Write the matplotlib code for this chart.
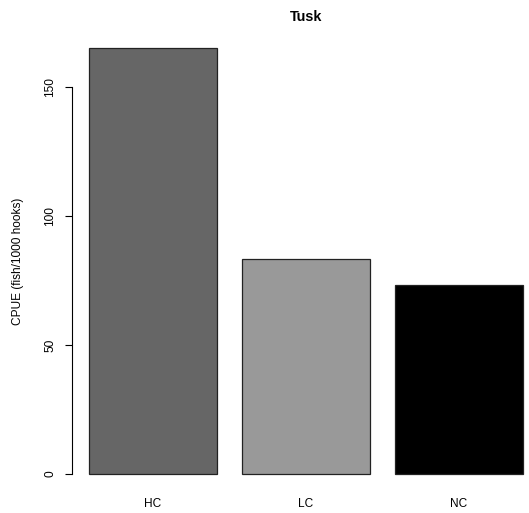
import numpy as np
import matplotlib
matplotlib.use("Agg")
import matplotlib.pyplot as plt

plt.rcParams["font.family"] = ["Liberation Sans", "DejaVu Sans"]

groups = ["HC", "LC", "NC"]
cpue = [165.3, 83.4, 73.2]
bar_colors = ["#666666", "#999999", "#000000"]
y_ticks = [0, 50, 100, 150]

W, H = 529, 513
fig = plt.figure(figsize=(W / 100, H / 100), dpi=100)

# plot region in pixels, like R's default margins
left, right, top, bottom = 72, 540, 31, 491
ax = fig.add_axes([left / W, (H - bottom) / H, (right - left) / W, (bottom - top) / H])

# barplot geometry: width 1, space 0.2
width = 1.0
space = 0.2
x_left = space + np.arange(len(groups)) * (width + space)
x_mid = x_left + width / 2
ax.bar(x_mid, cpue, width=width, color=bar_colors, edgecolor="#222222", linewidth=0.9)

xmin, xmax = x_left[0], x_left[-1] + width
xpad = 0.04 * (xmax - xmin)
ax.set_xlim(xmin - xpad, xmax + xpad)
ymax = max(cpue)
ax.set_ylim(-0.04 * ymax, 1.04 * ymax)

for s in ["top", "right", "bottom"]:
    ax.spines[s].set_visible(False)
ax.spines["left"].set_bounds(y_ticks[0], y_ticks[-1])
ax.spines["left"].set_linewidth(0.8)

ax.set_yticks(y_ticks)
ax.set_yticklabels([str(t) for t in y_ticks], rotation=90, va="center", fontsize=8.6)
ax.tick_params(axis="y", length=5, width=0.8, pad=6.5)

ax.set_xticks(x_mid)
ax.set_xticklabels(groups, fontsize=8.6)
ax.tick_params(axis="x", length=0, pad=5)

fig.text(18 / W, 1 - (top + bottom) / 2 / H, "CPUE (fish/1000 hooks)",
         rotation=90, ha="center", va="center", fontsize=8.6)
fig.text((left + right) / 2 / W, 1 - 17 / H, "Tusk",
         ha="center", va="center", fontsize=10.4, fontweight="bold")

fig.savefig("out.png", dpi=100)
